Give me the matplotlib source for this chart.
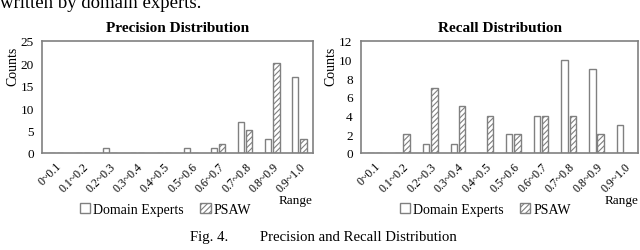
import matplotlib.pyplot as plt
import numpy as np

plt.rcParams['font.family'] = ['Liberation Serif', 'DejaVu Serif']
plt.rcParams['hatch.linewidth'] = 0.8

ranges = ["0~0.1", "0.1~0.2", "0.2~0.3", "0.3~0.4", "0.4~0.5",
          "0.5~0.6", "0.6~0.7", "0.7~0.8", "0.8~0.9", "0.9~1.0"]
prec_experts = [0, 0, 1, 0, 0, 1, 1, 7, 3, 17]
prec_psaw = [0, 0, 0, 0, 0, 0, 2, 5, 20, 3]
rec_experts = [0, 0, 1, 1, 0, 2, 4, 10, 9, 3]
rec_psaw = [0, 2, 7, 5, 4, 2, 4, 4, 2, 0]

grey = '#808080'

fig = plt.figure(figsize=(6.4, 2.51), dpi=100)


def draw(rect, experts, psaw, title, ymax, step, legx):
    ax = fig.add_axes(rect)
    x = np.arange(len(ranges))
    ax.bar(x - 0.15, experts, 0.23, color='white', edgecolor=grey, linewidth=1.0,
           label='Domain Experts')
    ax.bar(x + 0.15, psaw, 0.23, color='white', edgecolor=grey, linewidth=1.0,
           hatch='//////', label='PSAW')
    ax.set_xlim(-0.5, len(ranges) - 0.5)
    ax.set_ylim(0, ymax)
    ax.set_yticks(np.arange(0, ymax + 1, step))
    ax.set_xticks(x)
    ax.set_xticklabels(ranges, rotation=45, ha='right', rotation_mode='anchor', fontsize=8.5)
    ax.tick_params(length=0, labelsize=9.5, pad=6)
    ax.tick_params(axis='x', pad=5, labelsize=8.5)
    for s in ax.spines.values():
        s.set_color(grey)
        s.set_linewidth(1.2)
    ax.set_title(title, fontsize=11, fontweight='bold', pad=7)
    ax.set_ylabel('Counts', fontsize=10, labelpad=1)
    ax.yaxis.set_label_coords(-0.085, 0.78)
    ax.text(1.0, -0.42, 'Range', transform=ax.transAxes, ha='right', va='center', fontsize=9.5)
    ax.legend(loc='upper center', bbox_to_anchor=(legx, -0.40), ncol=2, frameon=False,
              fontsize=10, handlelength=0.75, handleheight=0.75, handletextpad=0.2,
              columnspacing=1.2, borderaxespad=0)
    return ax


draw([0.066, 0.387, 0.423, 0.446], prec_experts, prec_psaw,
     'Precision Distribution', 25, 5, 0.455)
draw([0.564, 0.387, 0.433, 0.446], rec_experts, rec_psaw,
     'Recall Distribution', 12, 2, 0.448)

fig.text(0.0, 0.968, 'written by domain experts.', ha='left', va='baseline', fontsize=13.5)
fig.text(0.297, 0.038, 'Fig. 4.', ha='left', va='baseline', fontsize=10.6)
fig.text(0.406, 0.038, 'Precision and Recall Distribution', ha='left',
         va='baseline', fontsize=10.6)

fig.savefig('out.png', dpi=100)
